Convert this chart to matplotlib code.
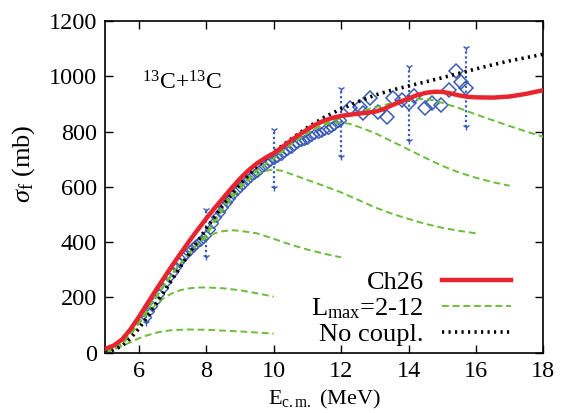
import matplotlib
matplotlib.use("Agg")
import matplotlib.pyplot as plt
from matplotlib.lines import Line2D

plt.rcParams['font.family'] = ['Liberation Serif', 'DejaVu Serif']
plt.rcParams['mathtext.fontset'] = 'custom'
plt.rcParams['mathtext.rm'] = 'Liberation Serif'
plt.rcParams['mathtext.it'] = 'Liberation Serif:italic'

# Ch26 (full coupling)
e_ch26 = [5.0, 5.25, 5.5, 5.75, 6.0, 6.25, 6.5, 6.75, 7.0, 7.25, 7.5, 7.75, 8.0, 8.25,
          8.5, 8.75, 9.0, 9.25, 9.5, 9.75, 10.0, 10.25, 10.5, 10.75, 11.0, 11.25, 11.5,
          11.75, 12.0, 12.25, 12.5, 12.75, 13.0, 13.25, 13.5, 13.75, 14.0, 14.25, 14.5,
          14.75, 15.0, 15.25, 15.5, 15.75, 16.0, 16.5, 17.0, 17.5, 18.0]
s_ch26 = [14, 26, 48, 85, 130, 178, 226, 272, 318, 362, 405, 446, 486, 524,
          560, 596, 630, 660, 685, 705, 722, 744, 767, 788, 808, 826, 840,
          850, 857, 861, 865, 868, 872, 881, 895, 908, 920, 932, 940,
          944, 944, 938, 931, 926, 924, 923, 927, 937, 950]

# No coupling
e_nc = [5.0, 5.25, 5.5, 5.75, 6.0, 6.25, 6.5, 6.75, 7.0, 7.25, 7.5, 7.75, 8.0, 8.5,
        9.0, 9.5, 10.0, 10.5, 11.0, 11.5, 12.0, 12.5, 13.0, 13.5, 14.0, 14.5, 15.0,
        15.5, 16.0, 16.5, 17.0, 17.5, 18.0]
s_nc = [3, 10, 25, 52, 88, 130, 176, 222, 268, 314, 360, 405, 450, 535,
        610, 675, 726, 772, 815, 852, 882, 908, 932, 950, 965, 980, 995,
        1011, 1027, 1042, 1056, 1068, 1080]

# L_max curves (2, 4, 6, 8, 10, 12)
e_l2 = [5.0, 5.25, 5.5, 5.75, 6.0, 6.25, 6.5, 6.75, 7.0, 7.5, 8.0, 8.5, 9.0, 9.5, 10.0]
s_l2 = [3, 12, 24, 38, 52, 63, 72, 78, 82, 84, 83, 80, 77, 73, 69]

e_l4 = [5.0, 5.25, 5.5, 5.75, 6.0, 6.25, 6.5, 6.75, 7.0, 7.25, 7.5, 7.75, 8.0, 8.5,
        9.0, 9.5, 10.0]
s_l4 = [3, 12, 32, 65, 105, 142, 174, 199, 216, 227, 233, 236, 236, 233,
        226, 215, 203]

e_l6 = [5.0, 5.25, 5.5, 5.75, 6.0, 6.5, 7.0, 7.5, 7.75, 8.0, 8.25, 8.5, 8.75, 9.0,
        9.5, 10.0, 10.5, 11.0, 11.5, 12.0]
s_l6 = [3, 12, 32, 68, 110, 200, 288, 362, 393, 417, 432, 440, 443, 441,
        432, 412, 391, 373, 358, 345]

e_l8 = [5.0, 5.25, 5.5, 5.75, 6.0, 6.5, 7.0, 7.5, 8.0, 8.5, 9.0, 9.25, 9.5, 9.75,
        10.0, 10.25, 10.5, 11.0, 11.5, 12.0, 12.5, 13.0, 13.5, 14.0, 14.5, 15.0,
        15.5, 16.0]
s_l8 = [3, 12, 32, 68, 110, 200, 288, 362, 425, 520, 596, 625, 645, 658,
        663, 658, 647, 625, 603, 580, 553, 526, 503, 484, 466, 452,
        441, 432]

e_l10 = [5.0, 5.25, 5.5, 5.75, 6.0, 6.5, 7.0, 7.5, 8.0, 8.5, 9.0, 9.5, 10.0, 10.5,
         11.0, 11.25, 11.5, 11.75, 12.0, 12.25, 12.5, 13.0, 13.5, 14.0, 14.5, 15.0,
         15.5, 16.0, 16.5, 17.0]
s_l10 = [3, 12, 32, 68, 110, 200, 288, 362, 428, 535, 605, 660, 703, 753,
         795, 812, 825, 832, 833, 828, 818, 795, 765, 735, 705, 676,
         652, 633, 617, 604]

e_l12 = [5.0, 5.25, 5.5, 5.75, 6.0, 6.5, 7.0, 7.5, 8.0, 8.5, 9.0, 9.5, 10.0, 10.5,
         11.0, 11.5, 12.0, 12.5, 13.0, 13.5, 14.0, 14.25, 14.5, 14.75, 15.0, 15.5,
         16.0, 16.5, 17.0, 17.5, 18.0]
s_l12 = [3, 12, 32, 68, 110, 200, 288, 362, 428, 535, 605, 660, 703, 753,
         795, 828, 850, 870, 888, 903, 914, 918, 918, 913, 904, 885,
         862, 841, 820, 800, 781]

# Experimental data (dense low-energy set)
e_exp1 = [6.2, 6.3, 6.4, 6.5, 6.6, 6.7, 6.8, 6.9, 7.0, 7.1, 7.2, 7.3, 7.4, 7.5, 7.6,
          7.7, 7.8, 7.9, 8.0, 8.1, 8.2, 8.3, 8.4, 8.5, 8.6, 8.7, 8.8, 8.9, 9.0, 9.1,
          9.2, 9.3, 9.4, 9.5, 9.6, 9.7, 9.8, 9.9, 10.0, 10.1, 10.2, 10.3, 10.4, 10.5,
          10.6, 10.7, 10.8, 10.9, 11.0, 11.1, 11.2, 11.3, 11.4, 11.5, 11.6, 11.7, 11.8,
          11.9, 12.0]
s_exp1 = [130, 150, 170, 190, 212, 235, 255, 275, 292, 310, 328, 345, 358, 370, 383,
          395, 405, 415, 425, 448, 470, 490, 510, 528, 545, 560, 575, 588, 600, 612,
          625, 635, 645, 655, 665, 675, 685, 693, 700, 708, 715, 725, 735, 742,
          750, 758, 765, 770, 775, 783, 790, 795, 800, 805, 810, 818, 825,
          833, 842]
# Experimental data (higher-energy set)
e_exp2 = [12.25, 12.55, 12.65, 12.85, 13.1, 13.35, 13.55, 13.8, 14.0, 14.15,
          14.5, 14.7, 14.95, 15.2, 15.4, 15.55, 15.7]
s_exp2 = [884, 890, 866, 920, 872, 853, 920, 914, 902, 930,
          884, 905, 898, 950, 1018, 980, 958]

# Error bars (selected points)
e_err = [6.2, 8.0, 10.0, 12.0, 14.0, 15.7]
s_err = [130, 431, 700, 832, 900, 960]
d_err = [22, 85, 105, 123, 135, 144]

fig = plt.figure(figsize=(5.69, 4.13), dpi=100)
ax = fig.add_axes([0.185, 0.146, 0.770, 0.803])

green = '#6cbd3c'
red = '#e8252d'
blue = '#3a5cb8'

for x, y, d in zip(e_err, s_err, d_err):
    ax.plot([x, x], [y - d, y + d], color=blue, lw=1.6, ls=(0, (1, 1.2)), zorder=3)
    ax.plot([x, x], [y - d, y + d], ls='none', marker='1', ms=5, mew=1.0, color=blue, zorder=3)

ax.plot(e_exp1, s_exp1, ls='none', marker='D', ms=5.5, mfc='none', mec=blue, mew=1.0, zorder=3)
ax.plot(e_exp2, s_exp2, ls='none', marker='D', ms=7.5, mfc='none', mec=blue, mew=1.1, zorder=3)

for ee, ss in [(e_l2, s_l2), (e_l4, s_l4), (e_l6, s_l6), (e_l8, s_l8), (e_l10, s_l10), (e_l12, s_l12)]:
    ax.plot(ee, ss, color=green, lw=1.4, ls=(0, (3.5, 2)), zorder=4)

ax.plot(e_nc, s_nc, color='black', lw=2.6, ls=(0, (0.6, 1.2)), zorder=5)
ax.plot(e_ch26, s_ch26, color=red, lw=3.2, zorder=6, solid_joinstyle='round')

ax.set_xlim(5, 18)
ax.set_ylim(0, 1200)
ax.set_xticks([6, 8, 10, 12, 14, 16, 18])
ax.set_yticks([0, 200, 400, 600, 800, 1000, 1200])
ax.tick_params(direction='in', length=6, width=1.0, top=True, right=True,
               labelsize=17.5, pad=6)
for sp in ax.spines.values():
    sp.set_linewidth(1.2)

ax.set_xlabel(r'E$_{\mathrm{c.m.}}$ (MeV)', fontsize=16, labelpad=4)
ax.set_ylabel(r'$\sigma_{\mathrm{f}}$ (mb)', fontsize=19)
ax.yaxis.set_label_coords(-0.155, 0.57)

ax.text(6.1, 978, r'$^{13}$C+$^{13}$C', fontsize=17, ha='left', va='center')

handles = [Line2D([], [], color=red, lw=3.2),
           Line2D([], [], color=green, lw=1.4, ls=(0, (3.5, 2))),
           Line2D([], [], color='black', lw=2.6, ls=(0, (0.6, 1.2)))]
labels = ['Ch26', r'L$_{\mathrm{max}}$=2-12', 'No coupl.']
ax.legend(handles, labels, loc='lower right', frameon=False, markerfirst=False,
          fontsize=19, handlelength=2.6, handletextpad=0.7, labelspacing=0.08,
          borderaxespad=0.0, bbox_to_anchor=(0.95, -0.012))

fig.savefig('out.png', dpi=100)
